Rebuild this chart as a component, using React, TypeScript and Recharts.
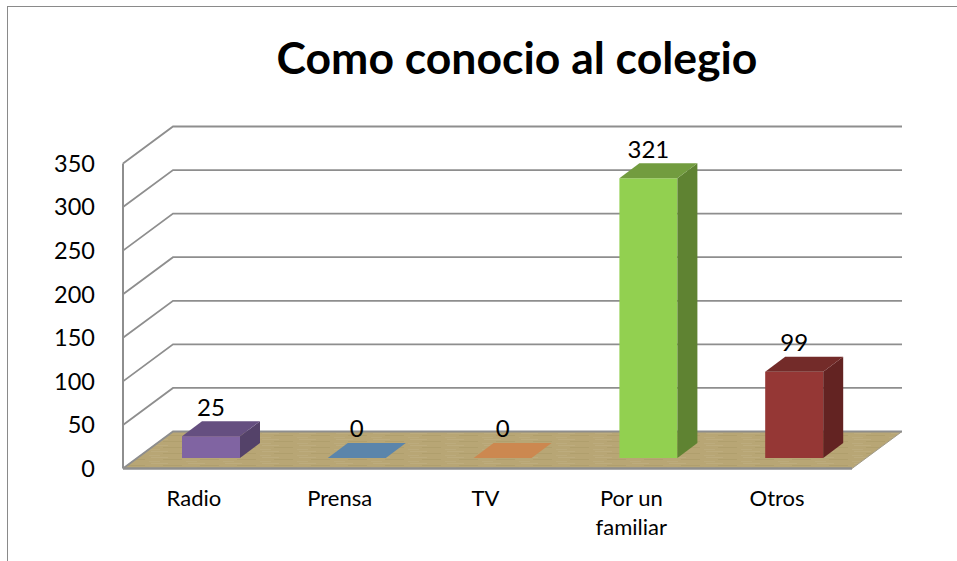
import { BarChart, Bar, XAxis, YAxis, CartesianGrid, LabelList } from 'recharts';

const TITLE = 'Como conocio al colegio';
const CATEGORIES = ['Radio', 'Prensa', 'TV', 'Por un familiar', 'Otros'];
const VALUES = [25, 0, 0, 321, 99];
const Y_TICKS = [0, 50, 100, 150, 200, 250, 300, 350];

// front, top and side face of each bar
const FRONT_COLORS = ['#8064a2', '#4f81bd', '#f79646', '#92d050', '#953735'];
const TOP_COLORS = ['#654f80', '#5b85ab', '#cc8850', '#729c3f', '#732b29'];
const SIDE_COLORS = ['#544269', '#4f81bd', '#f79646', '#5f8332', '#632322'];

const FONT = 'Lato, sans-serif';
const GRID = '#8e8e8e';

// wall depth and bar depth of the fake 3d box
const WALL_DX = 50;
const WALL_DY = 37;
const BAR_DX = 20;
const BAR_DY = 15;
const BAR_SHIFT_X = 15;
const BAR_SHIFT_Y = 10.5;

const data = CATEGORIES.map((name, i) => ({ name, value: VALUES[i] }));

const GridLine = (props: any) => {
  const { x1, x2, y1 } = props;
  const pts = `${x1},${y1} ${x1 + WALL_DX},${y1 - WALL_DY} ${x2 + WALL_DX},${y1 - WALL_DY}`;
  if (y1 > 460) {
    return (
      <g>
        <polygon
          points={`${x1},${y1} ${x1 + WALL_DX},${y1 - WALL_DY} ${x2 + WALL_DX},${y1 - WALL_DY} ${x2},${y1}`}
          fill="url(#oak)"
          stroke="#a09a88"
          strokeWidth={1}
        />
        <polyline points={pts} fill="none" stroke={GRID} strokeWidth={1.8} />
      </g>
    );
  }
  return <polyline points={pts} fill="none" stroke={GRID} strokeWidth={1.8} />;
};

const Bar3D = (props: any) => {
  const { x, y, width, height, index } = props;
  const left = x + BAR_SHIFT_X;
  const right = left + width;
  const top = y - BAR_SHIFT_Y;
  const bottom = top + height;
  const empty = height < 1;
  return (
    <g>
      {!empty && <rect x={left} y={top} width={width} height={height} fill={FRONT_COLORS[index]} />}
      {!empty && (
        <polygon
          points={`${right},${top} ${right + BAR_DX},${top - BAR_DY} ${right + BAR_DX},${bottom - BAR_DY} ${right},${bottom}`}
          fill={SIDE_COLORS[index]}
        />
      )}
      <polygon
        points={`${left},${top} ${left + BAR_DX},${top - BAR_DY} ${right + BAR_DX},${top - BAR_DY} ${right},${top}`}
        fill={TOP_COLORS[index]}
      />
    </g>
  );
};

const BarValue = (props: any) => {
  const { x, y, width, value } = props;
  return (
    <text
      x={x + BAR_SHIFT_X + width / 2}
      y={y - BAR_SHIFT_Y - 29}
      dy="0.35em"
      textAnchor="middle"
      fontFamily={FONT}
      fontSize={24}
      fill="#000"
    >
      {value}
    </text>
  );
};

// category names wrap once they get longer than one short word
const CategoryTick = (props: any) => {
  const { x, y, payload } = props;
  const words = String(payload.value).split(' ');
  const lines = words.length > 1 ? [words.slice(0, -1).join(' '), words[words.length - 1]] : words;
  return (
    <text x={x - 2} y={y + 5} textAnchor="middle" fontFamily={FONT} fontSize={22} fill="#000">
      {lines.map((line, i) => (
        <tspan key={line} x={x - 2} dy={i === 0 ? 0 : 29}>
          {line}
        </tspan>
      ))}
    </text>
  );
};

const App = () => {
  return (
    <div style={{ position: 'absolute', left: 0, top: 0, width: 957, height: 561, overflow: 'hidden', background: '#fff' }}>
      <div
        style={{
          position: 'absolute',
          left: 0,
          top: 6,
          width: 957,
          height: 555,
          boxSizing: 'border-box',
          marginLeft: 7,
          borderLeft: '1.5px solid #8a8a8a',
          borderTop: '1.5px solid #8a8a8a',
        }}
      />
      <div
        style={{
          position: 'absolute',
          left: 0,
          top: 31,
          width: 1034,
          textAlign: 'center',
          fontFamily: FONT,
          fontWeight: 700,
          fontSize: 44.5,
          lineHeight: '52px',
          color: '#000',
        }}
      >
        {TITLE}
      </div>
      <div style={{ position: 'absolute', left: 0, top: 0 }}>
        <BarChart
          width={957}
          height={561}
          data={data}
          margin={{ top: 163.5, right: 105, bottom: 32.5, left: 0 }}
          barSize={58}
        >
          <defs>
            <pattern id="oak" width="37" height="6" patternUnits="userSpaceOnUse">
              <rect width="37" height="6" fill="#b8a675" />
              <rect x="3" y="1" width="17" height="1" fill="#bdac7e" />
              <rect x="15" y="3" width="19" height="1" fill="#b09f6d" />
              <rect x="1" y="5" width="11" height="1" fill="#bcab7d" />
            </pattern>
          </defs>
          <CartesianGrid vertical={false} horizontal={GridLine} />
          <XAxis
            dataKey="name"
            height={60}
            interval={0}
            axisLine={{ stroke: GRID, strokeWidth: 2.5 }}
            tickLine={false}
            tick={CategoryTick}
            tickMargin={26}
          />
          <YAxis
            width={123}
            domain={[0, 350]}
            ticks={Y_TICKS}
            interval={0}
            axisLine={{ stroke: GRID, strokeWidth: 2 }}
            tickLine={false}
            tickMargin={22}
            tick={{ fontFamily: FONT, fontSize: 23.5, fill: '#000' }}
          />
          <Bar dataKey="value" isAnimationActive={false} shape={Bar3D}>
            <LabelList dataKey="value" content={BarValue} />
          </Bar>
        </BarChart>
      </div>
    </div>
  );
};

export default App;
